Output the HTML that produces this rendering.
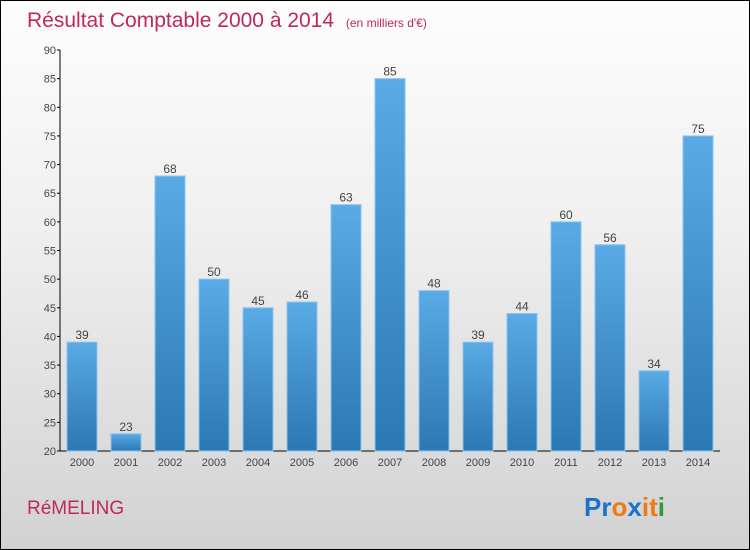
<!DOCTYPE html>
<html><head><meta charset="utf-8"><style>
body{margin:0}
#c{position:relative;width:748px;height:548px;border:1px solid #000;background:linear-gradient(#fdfdfd,#f0f0f0 40%,#d2d2d2);font-family:"Liberation Sans",sans-serif;overflow:hidden}
</style></head><body>
<div id="c">
<svg width="748" height="548" id="s">
<defs><linearGradient id="g" x1="0" y1="0" x2="0" y2="1"><stop offset="0" stop-color="#5aaae6"/><stop offset="1" stop-color="#2a78b4"/></linearGradient></defs>
<text x="26" y="26" font-size="21" fill="#c0285a">Résultat Comptable 2000 à 2014 <tspan font-size="12" dx="6">(en milliers d'€)</tspan></text>
<text x="26" y="513" font-size="19" fill="#c0285a">RéMELING</text>
<text x="583" y="515" font-size="26" font-weight="bold"><tspan fill="#1a73c8">Pr</tspan><tspan fill="#f07a10">o</tspan><tspan fill="#1a73c8">x</tspan><tspan fill="#f07a10">i</tspan><tspan fill="#f07a10">t</tspan><tspan fill="#2a9a3a">i</tspan></text>
<g id="ax"></g><g id="bars"></g>
</svg></div>
<script>
const categories=["2000","2001","2002","2003","2004","2005","2006","2007","2008","2009","2010","2011","2012","2013","2014"];
const values=[39,23,68,50,45,46,63,85,48,39,44,60,56,34,75];
const ticks=[20,25,30,35,40,45,50,55,60,65,70,75,80,85,90];
const ns="http://www.w3.org/2000/svg";
const x0=59,x1=719,yMin=20,yMax=90,yTop=49,yBot=450;
const y=v=>yBot-(v-yMin)/(yMax-yMin)*(yBot-yTop);
const bw=(x1-x0)/categories.length;
const xc=i=>x0+bw*(i+0.5);
function mk(t,a,p){const e=document.createElementNS(ns,t);for(const k in a)e.setAttribute(k,a[k]);p.appendChild(e);return e;}
const ax=document.getElementById('ax'),bars=document.getElementById('bars');
let l=mk('line',{x1:x0,y1:yTop,x2:x0,y2:yBot,stroke:'#000'},ax);


l=mk('line',{x1:x0,y1:yBot,x2:x1,y2:yBot,stroke:'#000'},ax);


ticks.forEach(t=>{
 mk('line',{x1:x0-3,y1:y(t),x2:x0,y2:y(t),stroke:'#000'},ax);
 const tx=mk('text',{x:x0-4,y:y(t)+4,'font-size':11,'text-anchor':'end',fill:'#444'},ax);
 tx.textContent=t;
 
 
});
categories.forEach((c,i)=>{
 const tx=mk('text',{x:xc(i),y:yBot+15,'font-size':11,'text-anchor':'middle',fill:'#444'},ax);
 tx.textContent=c;
 
 
 const v=values[i];
 const r=mk('rect',{x:xc(i)-15,y:y(v),width:30,height:yBot-y(v),fill:'url(#g)',stroke:'#8cc4ee','stroke-width':1},bars);
 
 
 const lb=mk('text',{x:xc(i),y:y(v)-3,'font-size':12,'text-anchor':'middle',fill:'#444'},bars);
 lb.textContent=v;
 
 
});
</script>
</body></html>
